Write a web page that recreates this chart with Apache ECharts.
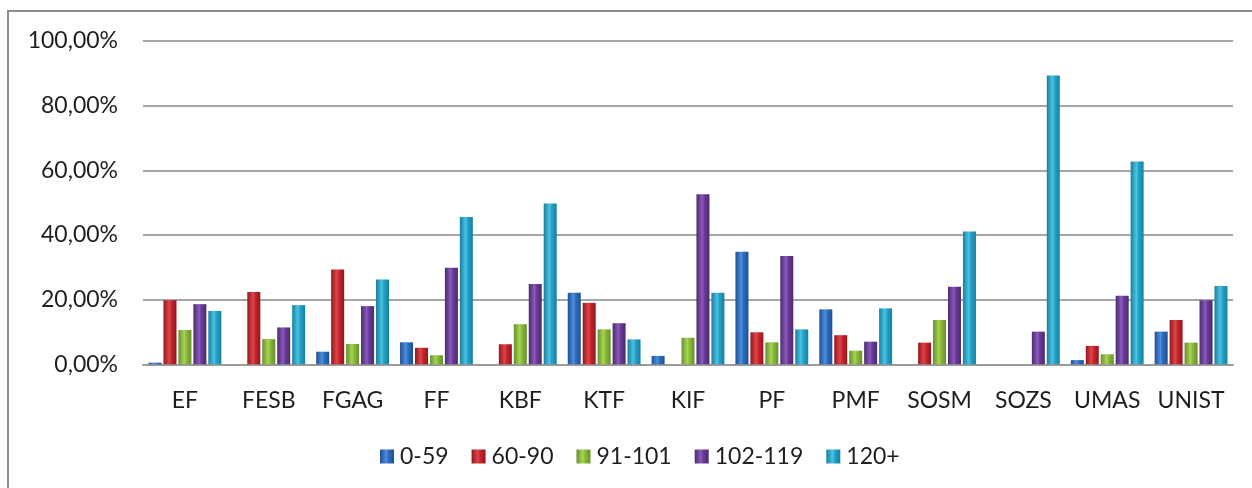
<!DOCTYPE html>
<html>
<head>
<meta charset="utf-8">
<script src="https://cdn.jsdelivr.net/npm/echarts@6/dist/echarts.min.js"></script>
<style>
  html, body { margin: 0; padding: 0; background: #fff; }
  #chart { width: 1252px; height: 488px; }
</style>
</head>
<body>
<div id="chart"></div>
<script>
const categories = ['EF','FESB','FGAG','FF','KBF','KTF','KIF','PF','PMF','SOSM','SOZS','UMAS','UNIST'];
const seriesNames = ['0-59','60-90','91-101','102-119','120+'];
const s0_59    = [0.5, 0,    3.9,  6.8,  0,    22.1, 2.6,  34.8, 17.0, 0,    0,    1.3,  10.1];
const s60_90   = [19.8, 22.4, 29.3, 5.1,  6.2,  19.0, 0,    9.9,  9.0,  6.7,  0,    5.7,  13.7];
const s91_101  = [10.6, 7.8,  6.3,  2.8,  12.4, 10.8, 8.2,  6.8,  4.2,  13.7, 0,    3.1,  6.7];
const s102_119 = [18.6, 11.4, 18.0, 29.9, 24.8, 12.7, 52.6, 33.5, 7.0,  24.0, 10.1, 21.2, 19.8];
const s120p    = [16.5, 18.3, 26.2, 45.6, 49.7, 7.7,  22.1, 10.8, 17.3, 41.1, 89.3, 62.7, 24.2];
const yTicks = [0, 20, 40, 60, 80, 100];

const seriesData = [s0_59, s60_90, s91_101, s102_119, s120p];
const baseColors = ['#2f6fc0', '#c8262c', '#8cbb3a', '#6a3b98', '#26a4c8'];
const darkColors = ['#1d4f94', '#93171c', '#66902a', '#4b2a70', '#17809e'];
const lightColors = ['#4d8ede', '#e0454a', '#a8d455', '#8a5bbb', '#4cc3e4'];

function grad(i) {
  return new echarts.graphic.LinearGradient(0, 0, 1, 0, [
    { offset: 0, color: darkColors[i] },
    { offset: 0.45, color: lightColors[i] },
    { offset: 0.6, color: baseColors[i] },
    { offset: 1, color: darkColors[i] }
  ]);
}

const chart = echarts.init(document.getElementById('chart'));
const font = 'Lato, "Open Sans", sans-serif';
const textColor = '#1e1e1e';
chart.setOption({
  animation: false,
  textStyle: { fontFamily: font },
  graphic: [{
    type: 'rect',
    shape: { x: 8, y: 11, width: 1400, height: 700 },
    style: { fill: 'none', stroke: '#8c8c8c', lineWidth: 2 },
    silent: true,
    z: 100
  }],
  grid: { left: 143, right: 19, top: 41, bottom: 123.7, containLabel: false },
  legend: {
    data: seriesNames,
    left: 375,
    top: 440,
    icon: 'rect',
    itemWidth: 14,
    itemHeight: 14,
    itemGap: 23,
    textStyle: { fontFamily: font, fontSize: 23, color: textColor, padding: [0, 0, 0, 1] }
  },
  xAxis: {
    type: 'category',
    data: categories,
    axisTick: { show: false },
    axisLine: { show: true, lineStyle: { color: '#9a9a9a', width: 2 } },
    axisLabel: { fontFamily: font, fontSize: 23, color: textColor, margin: 25, interval: 0 }
  },
  yAxis: {
    type: 'value',
    min: yTicks[0],
    max: yTicks[yTicks.length - 1],
    interval: 20,
    axisLine: { show: false },
    axisTick: { show: false },
    splitLine: { lineStyle: { color: '#a6a6a6', width: 2 } },
    axisLabel: {
      fontFamily: font, fontSize: 23, color: textColor, margin: 25,
      formatter: v => v.toFixed(2).replace('.', ',') + '%'
    }
  },
  series: seriesNames.map((name, i) => ({
    name: name,
    type: 'bar',
    data: seriesData[i],
    barWidth: 13,
    barGap: '15%',
    itemStyle: { color: grad(i) }
  }))
});
</script>
</body>
</html>
